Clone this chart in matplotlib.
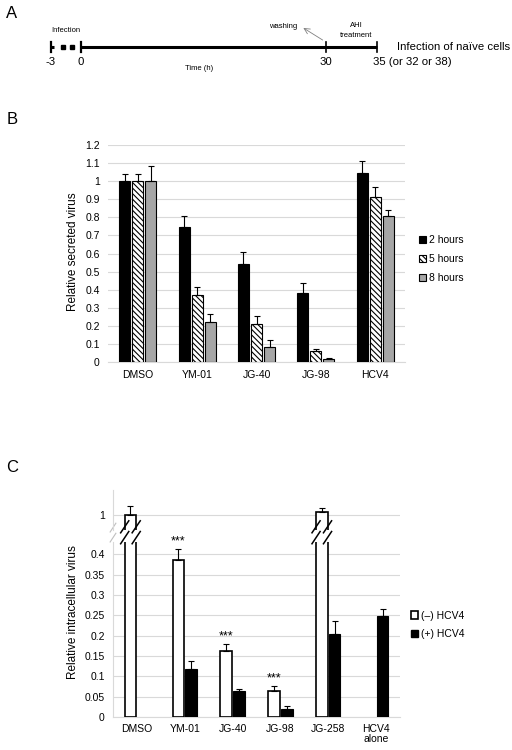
import matplotlib
matplotlib.use("Agg")
import matplotlib.pyplot as plt
from matplotlib.patches import Patch
import numpy as np

plt.rcParams['font.family'] = ['Liberation Sans', 'DejaVu Sans']
NARROW = ['Liberation Sans Narrow', 'Liberation Sans']

# ---- data ----
# panel A timeline (schematic positions in pixels)
timeline_labels = ["-3", "0", "30", "35 (or 32 or 38)"]
timeline_pos = [51, 81, 326, 377]

# panel B: relative secreted virus
groups_b = ["DMSO", "YM-01", "JG-40", "JG-98", "HCV4"]
h2 = [1.0, 0.745, 0.54, 0.38, 1.045]
e2 = [0.04, 0.06, 0.07, 0.055, 0.065]
h5 = [1.0, 0.37, 0.21, 0.06, 0.91]
e5 = [0.04, 0.045, 0.045, 0.01, 0.06]
h8 = [1.0, 0.22, 0.085, 0.015, 0.805]
e8 = [0.085, 0.045, 0.035, 0.005, 0.035]
legend_b = ["2 hours", "5 hours", "8 hours"]

# panel C: relative intracellular virus
groups_c = ["DMSO", "YM-01", "JG-40", "JG-98", "JG-258", "HCV4\nalone"]
neg = [1.0, 0.385, 0.162, 0.065, 1.008, np.nan]
neg_err = [0.022, 0.028, 0.017, 0.01, 0.01, np.nan]
pos = [np.nan, 0.118, 0.063, 0.02, 0.205, 0.248]
pos_err = [np.nan, 0.02, 0.006, 0.007, 0.03, 0.017]
stars = [False, True, True, True, False, False]
legend_c = ["(\u2013) HCV4", "(+) HCV4"]

W, H = 512, 750
fig = plt.figure(figsize=(W / 100, H / 100), dpi=100)

# overlay in pixel coordinates for panel A and letters
ov = fig.add_axes([0, 0, 1, 1])
ov.set_xlim(0, W)
ov.set_ylim(H, 0)
ov.axis("off")

for letter, (lx, ly) in zip("ABC", [(12, 14), (12, 120), (12, 468)]):
    ov.text(lx, ly, letter, fontsize=12, ha="center", va="center")

# panel A timeline
ty = 46.7
ov.plot([timeline_pos[1], timeline_pos[3]], [ty, ty], color="black", lw=2.2, solid_capstyle="butt")
ov.plot([timeline_pos[0] + 12, timeline_pos[0] + 21], [ty, ty], "s", color="black", ms=2.6)
ov.plot([timeline_pos[0], timeline_pos[0] + 3], [ty, ty], color="black", lw=2.2, solid_capstyle="butt")
for i, p in enumerate(timeline_pos):
    ov.plot([p, p], [ty - 5, ty + 5], color="black", lw=1.6 if i < 2 else 1.2)
    ha = "left" if i == 3 else "center"
    ov.text(p - 4 if i == 3 else p, 62, timeline_labels[i], fontsize=8.2, ha=ha, va="center", family=NARROW)
ov.text(66, 30, "Infection", fontsize=5.5, ha="center", va="center", family=NARROW)
ov.text(199, 68, "Time (h)", fontsize=5.5, ha="center", va="center", family=NARROW)
ov.text(283, 26, "washing", fontsize=5.5, ha="center", va="center", family=NARROW)
ov.text(356, 30.5, "AHI\ntreatment", fontsize=5.5, ha="center", va="center", family=NARROW, linespacing=1.5)
ov.annotate("", xy=(301, 26.5), xytext=(325, 41.5),
            arrowprops=dict(arrowstyle="->", color="#808080", lw=0.6))
ov.text(397, ty, "Infection of na\u00efve cells", fontsize=8.2, ha="left", va="center", family=NARROW)

# ---- panel B ----
plt.rcParams['hatch.linewidth'] = 0.8
axB = fig.add_axes([108 / W, 1 - 362 / H, 297 / W, 217 / H])
xb = np.arange(len(groups_b))
bw = 0.185
off = 0.22
series = [(h2, e2, dict(color="black", edgecolor="black")),
          (h5, e5, dict(color="white", edgecolor="black", hatch="\\\\\\\\\\\\")),
          (h8, e8, dict(color="#a6a6a6", edgecolor="black"))]
for k, (hv, ev, style) in enumerate(series):
    xs = xb + (k - 1) * off
    axB.bar(xs, hv, width=bw, linewidth=0.8, zorder=3, **style)
    axB.errorbar(xs, hv, yerr=[np.zeros(len(hv)), ev], fmt="none", ecolor="black",
                 elinewidth=0.8, capsize=2.2, capthick=0.8, zorder=4)
axB.set_xlim(-0.5, len(groups_b) - 0.5)
axB.set_ylim(0, 1.2)
ticks_b = np.round(np.arange(0, 1.21, 0.1), 1)
axB.set_yticks(ticks_b)
axB.set_yticklabels(["{:g}".format(v) for v in ticks_b])
axB.set_xticks(xb)
axB.set_xticklabels(groups_b)
axB.grid(axis="y", color="#d9d9d9", lw=0.8, zorder=0)
for s in ["top", "right", "left"]:
    axB.spines[s].set_visible(False)
axB.spines["bottom"].set_color("#d9d9d9")
axB.tick_params(length=0, labelsize=7.5)
axB.tick_params(axis="y", pad=6)
axB.tick_params(axis="x", pad=6)
fig.text(73 / W, 1 - 252 / H, "Relative secreted virus", rotation=90, fontsize=8.5, ha="center", va="center")

hb = [Patch(facecolor=st["color"], edgecolor="black", hatch=st.get("hatch"), lw=0.8) for _, _, st in series]
fig.legend(hb, legend_b, loc="center left", bbox_to_anchor=(419 / W, 1 - 259 / H), frameon=False,
           fontsize=7.5, handlelength=0.7, handleheight=0.7, handletextpad=0.3, labelspacing=0.85,
           borderaxespad=0, borderpad=0)

# ---- panel C (broken axis) ----
axC = fig.add_axes([113 / W, 1 - 717 / H, 287 / W, 175 / H])
axCt = fig.add_axes([113 / W, 1 - 530 / H, 287 / W, 40 / H])
xc = np.arange(len(groups_c))
cw = 0.24
co = 0.135
for ax in (axC, axCt):
    ax.bar(xc - co, neg, width=cw, color="white", edgecolor="black", linewidth=1.2, zorder=3)
    ax.bar(xc + co, pos, width=cw, color="black", edgecolor="black", linewidth=0.8, zorder=3)
    ax.errorbar(xc - co, neg, yerr=[np.zeros(len(neg)), neg_err], fmt="none", ecolor="black",
                elinewidth=0.8, capsize=2.2, capthick=0.8, zorder=4)
    ax.errorbar(xc + co, pos, yerr=[np.zeros(len(pos)), pos_err], fmt="none", ecolor="black",
                elinewidth=0.8, capsize=2.2, capthick=0.8, zorder=4)
    ax.set_xlim(-0.5, len(groups_c) - 0.5)
    ax.grid(axis="y", color="#d9d9d9", lw=0.8, zorder=0)
    for s in ["top", "right"]:
        ax.spines[s].set_visible(False)
    ax.spines["left"].set_color("#d9d9d9")
    ax.tick_params(length=0, labelsize=7.5)
    ax.tick_params(axis="y", pad=6)

axC.set_ylim(0, 0.43)
ticks_c = np.round(np.arange(0, 0.401, 0.05), 2)
axC.set_yticks(ticks_c)
axC.set_yticklabels(["{:g}".format(v) for v in ticks_c])
axC.set_xticks(xc)
axC.set_xticklabels(groups_c, linespacing=1.0)
axC.tick_params(axis="x", pad=5)
axC.spines["bottom"].set_color("#d9d9d9")

axCt.set_ylim(0.963, 1.062)
axCt.set_yticks([1])
axCt.set_yticklabels(["1"])
axCt.set_xticks([])
axCt.spines["bottom"].set_visible(False)

# break marks
dx = 0.085
for i, v in enumerate(neg):
    if v > 0.43:
        for edge in (xc[i] - co - cw / 2, xc[i] - co + cw / 2):
            axC.plot([edge - dx, edge + dx], [0.99, 1.06], color="black", lw=1.1,
                     transform=axC.get_xaxis_transform(), clip_on=False, zorder=5)
            axCt.plot([edge - dx, edge + dx], [-0.07, 0.23], color="black", lw=1.1,
                      transform=axCt.get_xaxis_transform(), clip_on=False, zorder=5)
axC.plot([-0.5 - 0.06, -0.5 + 0.06], [1.0, 1.05], color="#bfbfbf", lw=0.8,
         transform=axC.get_xaxis_transform(), clip_on=False)
axCt.plot([-0.5 - 0.06, -0.5 + 0.06], [-0.05, 0.17], color="#bfbfbf", lw=0.8,
          transform=axCt.get_xaxis_transform(), clip_on=False)

for i, st in enumerate(stars):
    if st:
        axC.text(xc[i] - co, neg[i] + neg_err[i] + 0.004, "***", ha="center", va="bottom",
                 fontsize=9, clip_on=False)

fig.text(73 / W, 1 - 612 / H, "Relative intracellular virus", rotation=90, fontsize=8.5, ha="center", va="center")

hc = [Patch(facecolor="white", edgecolor="black", lw=1.2), Patch(facecolor="black", edgecolor="black")]
fig.legend(hc, legend_c, loc="center left", bbox_to_anchor=(411 / W, 1 - 625 / H), frameon=False,
           fontsize=7.5, handlelength=0.7, handleheight=0.7, handletextpad=0.3, labelspacing=0.85,
           borderaxespad=0, borderpad=0)

fig.savefig("out.png", dpi=100)
